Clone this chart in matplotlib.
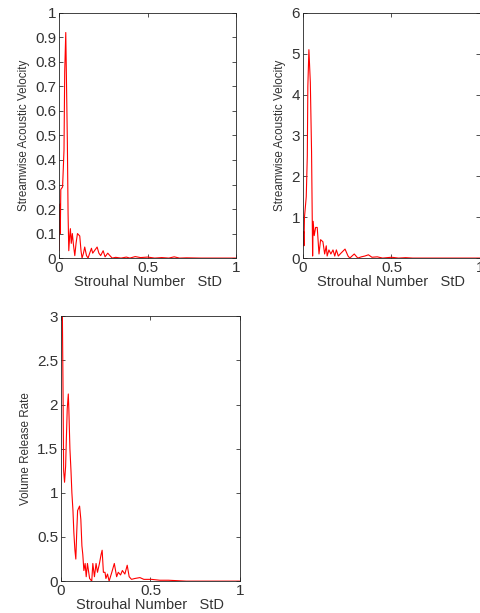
import matplotlib
matplotlib.use('Agg')
import matplotlib.pyplot as plt

plt.rcParams['font.family'] = ['Liberation Sans', 'DejaVu Sans']

# streamwise acoustic velocity, case 1
st1 = [0.0, 0.004, 0.007, 0.010, 0.020, 0.028, 0.032, 0.038, 0.041, 0.047, 0.051, 0.055,
       0.060, 0.064, 0.069, 0.075, 0.082, 0.089, 0.096, 0.104, 0.117, 0.124, 0.130, 0.138,
       0.145, 0.155, 0.164, 0.173, 0.183, 0.190, 0.200, 0.215, 0.225, 0.235, 0.249, 0.260,
       0.275, 0.287, 0.300, 0.320, 0.350, 0.380, 0.400, 0.430, 0.460, 0.500, 0.540, 0.580,
       0.620, 0.650, 0.680, 0.720, 0.800, 0.900, 1.0]
u1 = [0.03, 0.22, 0.10, 0.28, 0.29, 0.44, 0.76, 0.92, 0.77, 0.47, 0.18, 0.03,
      0.09, 0.12, 0.06, 0.10, 0.05, 0.01, 0.06, 0.10, 0.09, 0.03, 0.00, 0.02,
      0.045, 0.01, 0.00, 0.02, 0.04, 0.02, 0.03, 0.045, 0.02, 0.01, 0.03, 0.005,
      0.02, 0.01, 0.0, 0.003, 0.0, 0.004, 0.0, 0.006, 0.002, 0.004, 0.0, 0.002,
      0.0, 0.005, 0.0, 0.001, 0.0, 0.0, 0.0]

# streamwise acoustic velocity, case 2
st2 = [0.0, 0.004, 0.006, 0.009, 0.019, 0.025, 0.028, 0.034, 0.042, 0.049, 0.055, 0.058,
       0.064, 0.072, 0.081, 0.091, 0.100, 0.113, 0.123, 0.132, 0.137, 0.147, 0.158, 0.170,
       0.180, 0.189, 0.200, 0.215, 0.238, 0.255, 0.265, 0.290, 0.310, 0.330, 0.350, 0.370,
       0.390, 0.420, 0.450, 0.500, 0.540, 0.580, 0.620, 0.700, 0.800, 1.0]
u2 = [0.3, 0.65, 0.3, 1.0, 1.5, 2.5, 4.2, 5.1, 4.3, 2.6, 0.05, 0.9,
      0.55, 0.75, 0.75, 0.1, 0.45, 0.4, 0.1, 0.3, 0.05, 0.2, 0.1, 0.2,
      0.05, 0.2, 0.05, 0.12, 0.22, 0.05, 0.0, 0.1, 0.0, 0.03, 0.05, 0.08,
      0.02, 0.03, 0.0, 0.02, 0.0, 0.01, 0.0, 0.0, 0.0, 0.0]

# volume release rate
st3 = [0.0, 0.008, 0.011, 0.015, 0.020, 0.026, 0.030, 0.035, 0.041, 0.044, 0.050, 0.056,
       0.061, 0.067, 0.072, 0.078, 0.083, 0.088, 0.093, 0.104, 0.111, 0.117, 0.122, 0.128,
       0.135, 0.141, 0.148, 0.155, 0.160, 0.172, 0.178, 0.187, 0.196, 0.204, 0.215, 0.224,
       0.230, 0.237, 0.246, 0.251, 0.260, 0.269, 0.284, 0.298, 0.311, 0.320, 0.333, 0.343,
       0.357, 0.370, 0.381, 0.394, 0.413, 0.441, 0.463, 0.506, 0.552, 0.600, 0.650, 0.700,
       0.800, 0.900, 1.0]
q3 = [3.4, 3.0, 2.3, 1.25, 1.12, 1.3, 1.6, 1.95, 2.12, 1.95, 1.5, 1.25,
      1.0, 0.8, 0.55, 0.35, 0.25, 0.55, 0.8, 0.85, 0.7, 0.4, 0.3, 0.12,
      0.2, 0.05, 0.2, 0.1, 0.03, 0.0, 0.2, 0.05, 0.2, 0.1, 0.2, 0.3,
      0.35, 0.1, 0.1, 0.03, 0.08, 0.0, 0.1, 0.2, 0.05, 0.1, 0.07, 0.12,
      0.08, 0.18, 0.05, 0.02, 0.03, 0.04, 0.02, 0.02, 0.01, 0.01, 0.005, 0.0,
      0.0, 0.0, 0.0]

panels = [
    ([0.123, 0.579, 0.369, 0.400], st1, u1, 'Streamwise Acoustic Velocity',
     [0, 1], [i / 10 for i in range(11)], ['0'] + ['%.1f' % (i / 10) for i in range(1, 10)] + ['1']),
    ([0.631, 0.579, 0.369, 0.400], st2, u2, 'Streamwise Acoustic Velocity',
     [0, 6], list(range(7)), [str(i) for i in range(7)]),
    ([0.127, 0.052, 0.373, 0.432], st3, q3, 'Volume Release Rate',
     [0, 3], [0, 0.5, 1, 1.5, 2, 2.5, 3], ['0', '0.5', '1', '1.5', '2', '2.5', '3']),
]

fig = plt.figure(figsize=(4.8, 6.13), dpi=100)
for rect, x, y, ylab, ylim, yt, ytl in panels:
    ax = fig.add_axes(rect)
    ax.plot(x, y, color='red', lw=0.8)
    ax.set_xlim(0, 1)
    ax.set_ylim(*ylim)
    ax.set_xticks([0, 0.5, 1])
    ax.set_xticklabels(['0', '0.5', '1'])
    ax.set_yticks(yt)
    ax.set_yticklabels(ytl)
    ax.tick_params(direction='in', length=3, width=0.6, top=True, right=True,
                   labelsize=11, colors='#333333', pad=2)
    for s in ax.spines.values():
        s.set_linewidth(0.6)
        s.set_color('#222222')
    ax.set_xlabel('Strouhal Number   StD', fontsize=10.5, color='#333333', labelpad=0)
    ax.set_ylabel(ylab, fontsize=8.4, color='#333333', labelpad=4)

fig.savefig('out.png', dpi=100)
